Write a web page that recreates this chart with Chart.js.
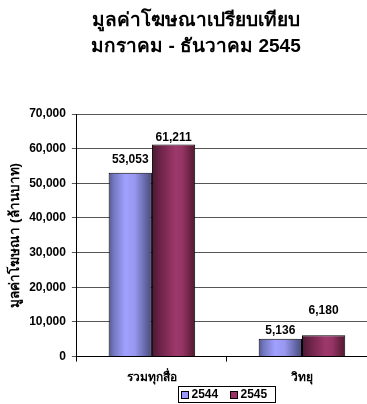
<!DOCTYPE html>
<html><head><meta charset="utf-8">
<script src="https://cdn.jsdelivr.net/npm/chart.js@4"></script>
<style>html,body{margin:0;padding:0;background:#fff;overflow:hidden}
#wrap{position:relative;width:392px;height:404px}
</style></head><body><div id="wrap"><canvas id="c"></canvas></div>
<script>
const categories = ['รวมทุกสื่อ', 'วิทยุ'];
const seriesNames = ['2544', '2545'];
const values2544 = [53053, 5136];
const values2545 = [61211, 6180];
const yTickValues = [0, 10000, 20000, 30000, 40000, 50000, 60000, 70000];
const titleLines = ['มูลค่าโฆษณาเปรียบเทียบ', 'มกราคม - ธันวาคม 2545'];
const yAxisTitle = 'มูลค่าโฆษณา (ล้านบาท)';

const FONT = 'Arial, "Liberation Sans", "DejaVu Sans", sans-serif';
const CAT_PCT = 0.577;
const blueStops = [[0,'#55598f'],[0.12,'#7478c0'],[0.38,'#a0a0ff'],[0.6,'#9898f0'],[0.85,'#6567a6'],[1,'#484a78']];
const redStops = [[0,'#4a1930'],[0.2,'#6e2449'],[0.55,'#9e386b'],[0.7,'#963466'],[0.9,'#66213f'],[1,'#521a33']];
const legendSwatch = ['#9999ff', '#993366'];
const labelGaps = [[8, 2], [3, 19]];

function grad(stops, fallback) {
  return ctx => {
    const ch = ctx.chart, xs = ch.scales.x;
    if (ctx.type !== 'data' || !xs || !ch.chartArea) return fallback;
    const catW = xs.width / categories.length;
    const bw = catW * CAT_PCT / 2;
    const c = xs.getPixelForValue(ctx.dataIndex);
    const left = c - catW * CAT_PCT / 2 + ctx.datasetIndex * bw;
    const g = ch.ctx.createLinearGradient(left, 0, left + bw, 0);
    stops.forEach(s => g.addColorStop(s[0], s[1]));
    return g;
  };
}
const fmt = v => v.toLocaleString('en-US');

const extras = {
  id: 'extras',
  afterDraw(chart) {
    const ctx = chart.ctx, ca = chart.chartArea;
    ctx.save();
    ctx.fillStyle = '#000';
    ctx.textAlign = 'center';
    ctx.textBaseline = 'alphabetic';
    ctx.font = 'bold 19px ' + FONT;
    ctx.fillText(titleLines[0], 196, 26);
    ctx.fillText(titleLines[1], 196, 52);
    ctx.font = 'bold 12px ' + FONT;
    ctx.textBaseline = 'bottom';
    chart.data.datasets.forEach((ds, di) => {
      chart.getDatasetMeta(di).data.forEach((el, i) => {
        ctx.fillText(fmt(ds.data[i]), el.x, el.y - labelGaps[i][di] + 1);
      });
    });
    const cx = (ca.left + ca.right) / 2;
    const w = 97, h = 16, top = 386;
    const lx = cx - w / 2;
    ctx.strokeStyle = '#000';
    ctx.lineWidth = 1;
    ctx.strokeRect(Math.round(lx) + 0.5, top + 0.5, w, h);
    ctx.font = 'bold 12px ' + FONT;
    ctx.textAlign = 'left';
    ctx.textBaseline = 'middle';
    let x = lx + 3;
    seriesNames.forEach((n, i) => {
      ctx.fillStyle = legendSwatch[i];
      ctx.fillRect(Math.round(x), top + 5, 7, 7);
      ctx.strokeRect(Math.round(x) + 0.5, top + 5.5, 7, 7);
      ctx.fillStyle = '#000';
      ctx.fillText(n, x + 10, top + 9);
      x += 49;
    });
    ctx.restore();
  }
};

new Chart(document.getElementById('c'), {
  type: 'bar',
  data: {
    labels: categories,
    datasets: [
      { label: seriesNames[0], data: values2544, backgroundColor: grad(blueStops, '#9999ff'), borderColor: '#000', borderWidth: 1 },
      { label: seriesNames[1], data: values2545, backgroundColor: grad(redStops, '#993366'), borderColor: '#000', borderWidth: 1 }
    ]
  },
  options: {
    responsive: true,
    maintainAspectRatio: false,
    animation: false,
    layout: { padding: { top: 114, right: 15, bottom: 10, left: 7 } },
    datasets: { bar: { categoryPercentage: CAT_PCT, barPercentage: 1 } },
    plugins: { legend: { display: false }, title: { display: false }, tooltip: { enabled: false } },
    scales: {
      x: {
        grid: { offset: true, drawOnChartArea: false, drawTicks: true, tickLength: 5, color: '#000' },
        border: { color: '#000' },
        ticks: { color: '#000', font: { family: FONT, size: 12, weight: 'bold' }, padding: 9 }
      },
      y: {
        min: 0, max: 70000,
        afterBuildTicks: s => { s.ticks = yTickValues.map(v => ({ value: v })); },
        grid: { color: '#555', tickLength: 5 },
        border: { color: '#000' },
        ticks: { color: '#000', font: { family: FONT, size: 12, weight: 'bold' }, padding: 6, callback: v => fmt(v) },
        title: { display: true, text: yAxisTitle, color: '#000', font: { family: FONT, size: 13.5, weight: 'bold' }, padding: { top: 0, bottom: 0 } }
      }
    }
  },
  plugins: [extras]
});
</script></body></html>
